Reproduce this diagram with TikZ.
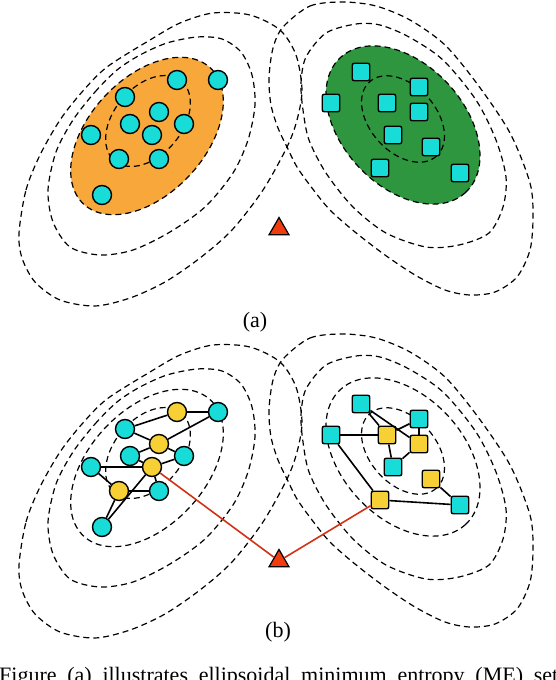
\documentclass[tikz,border=0pt]{standalone}
\usepackage{fontspec}
\setmainfont{Liberation Serif}
\usetikzlibrary{shapes.geometric}
\definecolor{ptcyan}{RGB}{24,220,216}
\definecolor{ptyellow}{RGB}{246,208,52}
\definecolor{clorange}{RGB}{248,168,58}
\definecolor{clgreen}{RGB}{46,150,62}
\definecolor{tgtred}{RGB}{240,60,15}
\definecolor{linkred}{RGB}{210,50,20}

\begin{document}
\begin{tikzpicture}[x=1pt, y=-1pt,
    contour/.style={dash pattern=on 6pt off 4pt, line width=1.2pt},
    cpt/.style={circle, draw, line width=1.4pt, fill=ptcyan, minimum size=19pt, inner sep=0pt},
    ypt/.style={cpt, fill=ptyellow},
    csq/.style={rectangle, rounded corners=2pt, draw, line width=1.4pt, fill=ptcyan, minimum size=17.5pt, inner sep=0pt},
    ysq/.style={csq, fill=ptyellow},
    tgt/.style={regular polygon, regular polygon sides=3, draw, line width=1.2pt, fill=tgtred, minimum size=23pt, inner sep=0pt},
    link/.style={line width=1.6pt},
    rlink/.style={line width=1.6pt, linkred},
    lbl/.style={font=\fontsize{22}{26}\selectfont, inner sep=0pt}
]
\clip (0,0) rectangle (556,680);

% filled sets, panel (a)
\fill[clorange, shift={(147,136)}, rotate=47] (0,0) ellipse [x radius=93, y radius=58];
\fill[clgreen, shift={(403,125)}, rotate=-47] (0,0) ellipse [x radius=92, y radius=61];

% level curves, both panels
\foreach \dy in {0,332} {
\begin{scope}[shift={(0,\dy)}]
\draw[contour] plot[smooth cycle] coordinates {(19,233) (26,190) (40,155) (60,120) (82,92) (107,67) (150,40) (180,23) (213,13) (250,15) (280,30) (296,55) (302,90) (297,120) (287,147) (263,190) (232,230) (200,258) (165,282) (130,298) (95,306) (60,300) (35,282) (22,258)};
\draw[contour] plot[smooth cycle] coordinates {(73,120) (95,92) (117,70) (140,55) (167,43) (197,37) (222,39) (241,52) (252,75) (255,105) (248,140) (233,173) (205,207) (170,232) (133,250) (100,255) (70,247) (53,222) (48,190) (56,152)};
\draw[contour, shift={(147,136)}, rotate=47] (0,0) ellipse [x radius=93, y radius=58];
\draw[contour, shift={(148,121)}, rotate=50] (0,0) ellipse [x radius=52, y radius=34];
\draw[contour] plot[smooth cycle] coordinates {(283,27) (310,6) (343,2) (376,6) (410,20) (445,45) (478,85) (510,133) (530,183) (533,217) (530,250) (517,277) (495,292) (470,295) (445,290) (415,275) (385,255) (355,232) (330,210) (312,188) (297,167) (287,147) (278,128) (271,105) (269,78) (273,48)};
\draw[contour] plot[smooth cycle] coordinates {(326,33) (356,24) (380,25) (409,37) (443,60) (476,100) (496,140) (506,177) (503,207) (489,233) (459,245) (426,247) (386,233) (353,207) (326,173) (309,140) (303,110) (301,83) (306,57)};
\draw[contour, shift={(403,125)}, rotate=-47] (0,0) ellipse [x radius=92, y radius=61];
\draw[contour, shift={(403,119)}, rotate=-48] (0,0) ellipse [x radius=50, y radius=33];
\end{scope}
}

% panel (a)
\node[cpt] (a1) at (177,80) {};
\node[cpt] (a2) at (218,80) {};
\node[cpt] (a3) at (125,97) {};
\node[cpt] (a4) at (159,112) {};
\node[cpt] (a5) at (130,124) {};
\node[cpt] (a6) at (184,124) {};
\node[cpt] (a7) at (91,135) {};
\node[cpt] (a8) at (152,135) {};
\node[cpt] (a9) at (119,159) {};
\node[cpt] (a10) at (159,159) {};
\node[cpt] (a11) at (102,195) {};

\node[csq] (b1) at (361,72) {};
\node[csq] (b2) at (331,103) {};
\node[csq] (b3) at (419,87) {};
\node[csq] (b4) at (387,103) {};
\node[csq] (b5) at (419,112) {};
\node[csq] (b6) at (393,135) {};
\node[csq] (b7) at (431,147) {};
\node[csq] (b8) at (380,168) {};
\node[csq] (b9) at (460,173) {};

\node[tgt] (tgta) at (279,229) {};
\node[lbl] (capa) at (255,322) {(a)};

% panel (b)
\node[ypt] (p1) at (177,412) {};
\node[cpt] (p2) at (218,412) {};
\node[cpt] (p3) at (125,429) {};
\node[ypt] (p4) at (159,444) {};
\node[cpt] (p5) at (130,456) {};
\node[cpt] (p6) at (184,456) {};
\node[cpt] (p7) at (91,467) {};
\node[ypt] (p8) at (152,467) {};
\node[ypt] (p9) at (119,491) {};
\node[cpt] (p10) at (159,491) {};
\node[cpt] (p11) at (102,527) {};

\node[csq] (q1) at (361,404) {};
\node[csq] (q2) at (331,435) {};
\node[csq] (q3) at (419,419) {};
\node[ysq] (q4) at (387,435) {};
\node[ysq] (q5) at (419,444) {};
\node[csq] (q6) at (393,467) {};
\node[ysq] (q7) at (431,479) {};
\node[ysq] (q8) at (380,500) {};
\node[csq] (q9) at (460,505) {};

\node[tgt] (tgtb) at (279,561) {};

\draw[link] (p1) -- (p2);
\draw[link] (p3) -- (p1);
\draw[link] (p3) -- (p4);
\draw[link] (p4) -- (p2);
\draw[link] (p4) -- (p5);
\draw[link] (p4) -- (p6);
\draw[link] (p5) -- (p8);
\draw[link] (p7) -- (p8);
\draw[link] (p8) -- (p6);
\draw[link] (p7) -- (p9);
\draw[link] (p9) -- (p10);
\draw[link] (p8) -- (p10);
\draw[link] (p11) -- (p9);
\draw[link] (p11) -- (p8);

\draw[link] (q2) -- (q4);
\draw[link] (q2) -- (q8);
\draw[link] (q8) -- (q9);
\draw[link] (q7) -- (q9);
\draw[link] (q4) -- (q6);
\draw[link] (q6) -- (q5);
\draw[link] (q1) -- (q5);
\draw[link] (q4) -- (q1);
\draw[link] (q4) -- (q3);
\draw[link] (q3) -- (q5);

\draw[rlink] (p8) -- (tgtb);
\draw[rlink] (q8) -- (tgtb);

\node[lbl] (capb) at (278,632) {(b)};
\node[lbl, anchor=base west] (caption) at (-1,682) {\makebox[559pt][s]{Figure (a) illustrates ellipsoidal minimum entropy (ME) set}};
\end{tikzpicture}
\end{document}
